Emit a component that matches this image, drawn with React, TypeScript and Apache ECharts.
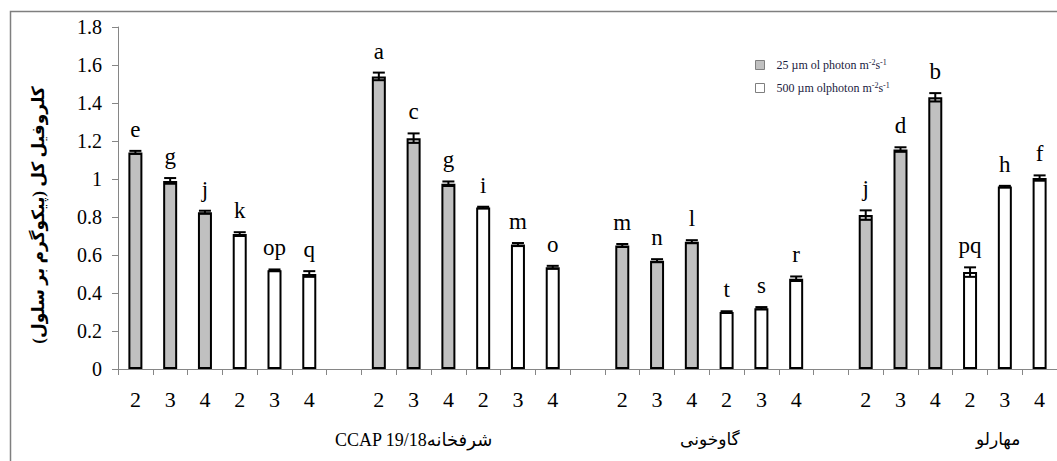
import React, { useEffect, useRef } from "react";
import * as echarts from "echarts";

// x categories (empty strings are the gaps between groups)
const categories = [
  "2", "3", "4", "2", "3", "4", "",
  "2", "3", "4", "2", "3", "4", "",
  "2", "3", "4", "2", "3", "4", "",
  "2", "3", "4", "2", "3", "4",
];
// light level of each bar: 25 (grey) or 500 (white); 0 for gaps
const lightLevel = [
  25, 25, 25, 500, 500, 500, 0,
  25, 25, 25, 500, 500, 500, 0,
  25, 25, 25, 500, 500, 500, 0,
  25, 25, 25, 500, 500, 500,
];
const values = [
  1.14, 0.99, 0.825, 0.71, 0.52, 0.50, null,
  1.54, 1.215, 0.975, 0.85, 0.655, 0.535, null,
  0.65, 0.57, 0.67, 0.30, 0.32, 0.475, null,
  0.81, 1.155, 1.43, 0.51, 0.96, 1.005,
];
const errors = [
  0.008, 0.015, 0.008, 0.01, 0.004, 0.015, null,
  0.02, 0.025, 0.012, 0.004, 0.008, 0.008, null,
  0.008, 0.008, 0.008, 0.004, 0.006, 0.012, null,
  0.025, 0.012, 0.022, 0.025, 0.004, 0.014,
];
const letters = [
  "e", "g", "j", "k", "op", "q", "",
  "a", "c", "g", "i", "m", "o", "",
  "m", "n", "l", "t", "s", "r", "",
  "j", "d", "b", "pq", "h", "f",
];
const yTicks = [0, 0.2, 0.4, 0.6, 0.8, 1, 1.2, 1.4, 1.6, 1.8];
const groupLabels = ["CCAP 19/18شرفخانه", "گاوخونی", "مهارلو"];
const yAxisTitle = "کلروفیل کل (پیکوگرم بر سلول)";
const seriesNames = ["25 µm ol photon m{sup|-2}s{sup|-1}", "500 µm olphoton m{sup|-2}s{sup|-1}"];

const SERIF = "Liberation Serif, DejaVu Serif, DejaVu Sans, serif";

export default function App() {
  const ref = useRef<HTMLDivElement>(null);
  useEffect(() => {
    document.body.style.margin = "0";
    const chart = echarts.init(ref.current!, null, { renderer: "svg" });
    const lowData = values.map((v, i) => (lightLevel[i] === 25 ? v : null));
    const highData = values.map((v, i) => (lightLevel[i] === 500 ? v : null));
    const errData = values
      .map((v, i) => (v == null ? null : [i, v, errors[i], letters[i]]))
      .filter((d) => d !== null);

    const option: any = {
      animation: false,
      backgroundColor: "#fff",
      grid: { left: 118, top: 27, bottom: 92, right: -5, containLabel: false },
      legend: {
        data: ["L25", "L500"],
        orient: "vertical",
        left: 750,
        top: 53,
        itemWidth: 9,
        itemHeight: 9,
        itemGap: 10,
        icon: "rect",
        itemStyle: { borderWidth: 1, borderColor: "#7f7f7f" },
        formatter: (name: string) => (name === "L25" ? seriesNames[0] : seriesNames[1]),
        textStyle: {
          fontFamily: SERIF,
          fontSize: 12,
          color: "#1a1a40",
          padding: [0, 0, 0, 7],
          rich: {
            sup: { fontSize: 8, fontFamily: SERIF, color: "#1a1a40", padding: [0, 0, 6, 0] },
          },
        },
      },
      xAxis: {
        type: "category",
        data: categories,
        axisLine: { lineStyle: { color: "#868686", width: 1 } },
        axisTick: { show: true, length: 6, lineStyle: { color: "#868686" } },
        axisLabel: {
          interval: 0,
          fontFamily: SERIF,
          fontSize: 22,
          color: "#000",
          margin: 19,
        },
      },
      yAxis: {
        type: "value",
        min: yTicks[0],
        max: yTicks[yTicks.length - 1],
        interval: 0.2,
        splitLine: { show: false },
        axisLine: { show: true, lineStyle: { color: "#868686", width: 1 } },
        axisTick: { show: true, length: 6, lineStyle: { color: "#868686" } },
        axisLabel: { fontFamily: SERIF, fontSize: 20, color: "#000", margin: 16 },
      },
      series: [
        {
          name: "L25",
          type: "bar",
          data: lowData,
          barWidth: 14,
          barGap: "-100%",
          itemStyle: { color: "#c0c0c0", borderColor: "#000", borderWidth: 2 },
        },
        {
          name: "L500",
          type: "bar",
          data: highData,
          barWidth: 14,
          barGap: "-100%",
          itemStyle: { color: "#ffffff", borderColor: "#000", borderWidth: 2 },
        },
        {
          name: "err",
          type: "custom",
          z: 10,
          data: errData,
          encode: { x: 0, y: 1 },
          renderItem: (params: any, api: any) => {
            const i = api.value(0);
            const v = api.value(1);
            const e = api.value(2);
            const letter = letters[i];
            const top = api.coord([i, v + e]);
            const bot = api.coord([i, v - e]);
            const x = top[0];
            const hw = 6;
            const ls = { stroke: "#000", lineWidth: 2 };
            return {
              type: "group",
              children: [
                { type: "line", shape: { x1: x, y1: top[1], x2: x, y2: bot[1] }, style: ls },
                { type: "line", shape: { x1: x - hw, y1: top[1], x2: x + hw, y2: top[1] }, style: ls },
                { type: "line", shape: { x1: x - hw, y1: bot[1], x2: x + hw, y2: bot[1] }, style: ls },
                {
                  type: "text",
                  style: {
                    text: letter,
                    x: x,
                    y: top[1] - 10,
                    align: "center",
                    verticalAlign: "bottom",
                    fontFamily: SERIF,
                    fontSize: 23,
                    fill: "#000",
                  },
                },
              ],
            };
          },
        },
      ],
      graphic: [
        {
          type: "polyline",
          silent: true,
          shape: { points: [[10.5, 470], [10.5, 11.5], [1070, 11.5]] },
          style: { fill: "none", stroke: "#7f7f7f", lineWidth: 1.5 },
          z: 5,
        },
        {
          type: "text",
          x: 38,
          y: 215,
          rotation: Math.PI / 2,
          style: {
            text: yAxisTitle,
            fontFamily: SERIF,
            fontWeight: "bold",
            fontSize: 17,
            fill: "#000",
            align: "center",
            verticalAlign: "middle",
          },
        },
        {
          type: "text",
          left: 335,
          top: 431,
          style: { text: groupLabels[0], fontFamily: SERIF, fontSize: 18, fill: "#000" },
        },
        {
          type: "text",
          left: 680,
          top: 431,
          style: { text: groupLabels[1], fontFamily: SERIF, fontSize: 17, fill: "#000" },
        },
        {
          type: "text",
          left: 976,
          top: 431,
          style: { text: groupLabels[2], fontFamily: SERIF, fontSize: 17, fill: "#000" },
        },
      ],
    };
    chart.setOption(option);
    return () => chart.dispose();
  }, []);
  return (
    <div
      ref={ref}
      style={{ width: 1057, height: 461, position: "absolute", left: 0, top: 0 }}
    />
  );
}
